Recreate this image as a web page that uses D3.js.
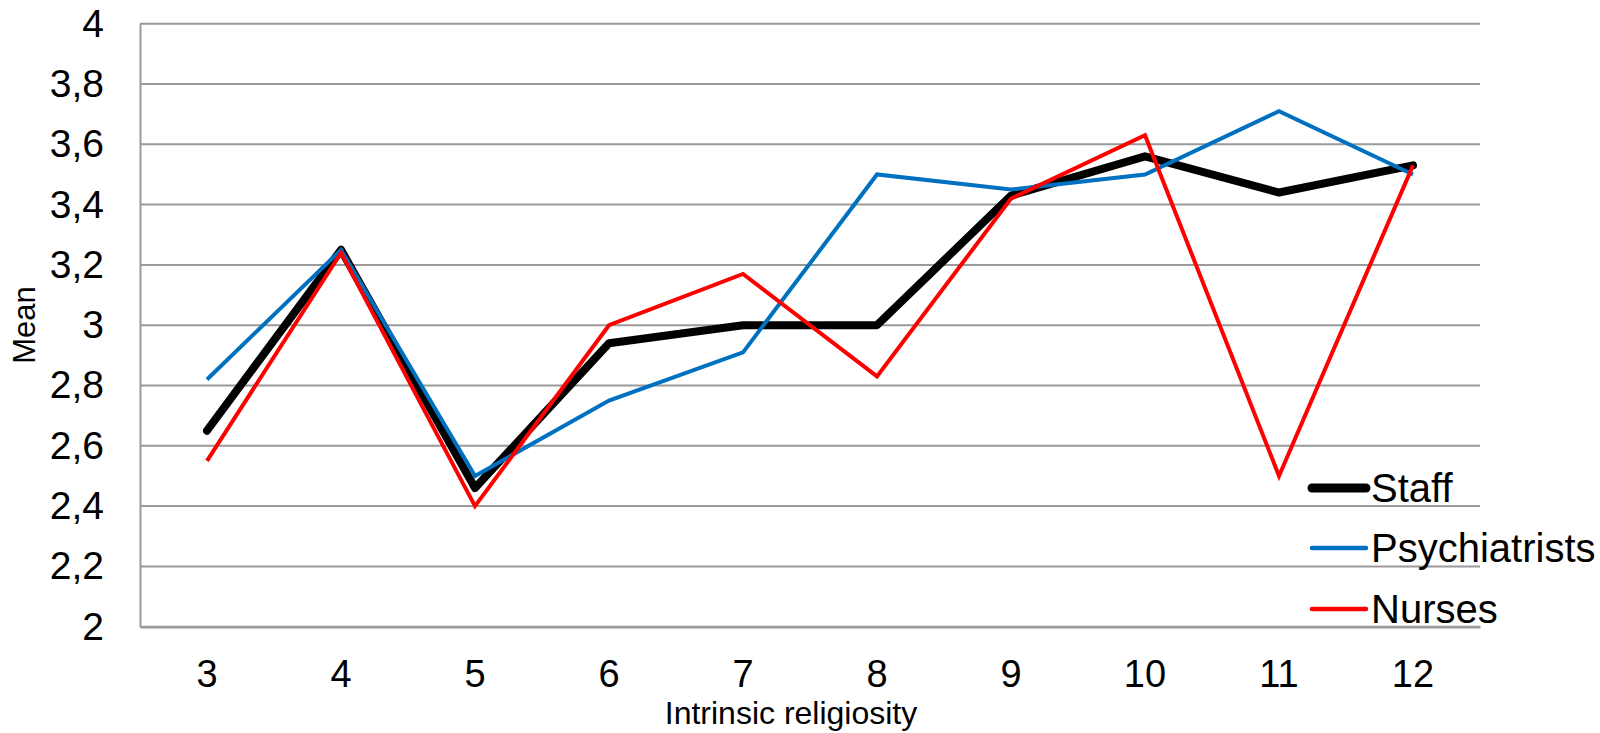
<!DOCTYPE html>
<html>
<head>
<meta charset="utf-8">
<script src="https://cdn.jsdelivr.net/npm/d3@7"></script>
<style>
  html, body { margin: 0; padding: 0; background: #fff; }
  svg { display: block; font-family: "Liberation Sans", Arial, sans-serif; }
</style>
</head>
<body>
<svg id="chart" width="1600" height="733"></svg>
<script>
// ---- data ----
const categories = ["3", "4", "5", "6", "7", "8", "9", "10", "11", "12"];
const staff         = [2.65, 3.25, 2.46, 2.94, 3.00, 3.00, 3.43, 3.56, 3.44, 3.53];
const psychiatrists = [2.82, 3.25, 2.50, 2.75, 2.91, 3.50, 3.45, 3.50, 3.71, 3.50];
const nurses        = [2.55, 3.24, 2.40, 3.00, 3.17, 2.83, 3.42, 3.63, 2.50, 3.53];
const yTicks = [2, 2.2, 2.4, 2.6, 2.8, 3, 3.2, 3.4, 3.6, 3.8, 4];
const seriesNames = ["Staff", "Psychiatrists", "Nurses"];
const xTitle = "Intrinsic religiosity";
const yTitle = "Mean";

// ---- styles ----
const styles = {
  "Staff":         { color: "#000000", width: 8, join: "round", cap: "round" },
  "Psychiatrists": { color: "#0070C0", width: 4, join: "miter", cap: "butt" },
  "Nurses":        { color: "#FF0000", width: 4, join: "miter", cap: "butt" }
};
const seriesData = { "Staff": staff, "Psychiatrists": psychiatrists, "Nurses": nurses };

const svg = d3.select("#chart");
const plotLeft = 140, plotRight = 1480, plotTop = 23.7, plotBottom = 626.7;

const x = d3.scaleBand().domain(categories).range([plotLeft, plotRight]);
const y = d3.scaleLinear().domain([2, 4]).range([plotBottom, plotTop]);

const fmt = v => String(+v.toFixed(1)).replace(".", ",");

// gridlines
svg.append("g")
  .selectAll("line")
  .data(yTicks)
  .join("line")
  .attr("x1", plotLeft).attr("x2", plotRight)
  .attr("y1", d => y(d)).attr("y2", d => y(d))
  .attr("stroke", "#9a9a9a")
  .attr("stroke-width", 2);

// y axis
const yAxis = svg.append("g")
  .attr("transform", `translate(${plotLeft},0)`)
  .call(d3.axisLeft(y).tickValues(yTicks).tickFormat(fmt).tickSize(0).tickPadding(36));
yAxis.select(".domain").attr("stroke", "#9a9a9a").attr("stroke-width", 2);
yAxis.selectAll("text")
  .attr("font-size", 39)
  .attr("font-family", "Liberation Sans, Arial, sans-serif")
  .attr("fill", "#000");

// x axis
const xAxis = svg.append("g")
  .attr("transform", `translate(0,${plotBottom})`)
  .call(d3.axisBottom(x).tickSize(0).tickPadding(33));
xAxis.select(".domain").attr("stroke", "#9a9a9a").attr("stroke-width", 2.5);
xAxis.selectAll("text")
  .attr("font-size", 38)
  .attr("font-family", "Liberation Sans, Arial, sans-serif")
  .attr("fill", "#000");

// axis titles
svg.append("text")
  .attr("x", 791).attr("y", 724)
  .attr("text-anchor", "middle")
  .attr("font-size", 32)
  .attr("fill", "#000")
  .text(xTitle);

svg.append("text")
  .attr("transform", "translate(35,325) rotate(-90)")
  .attr("text-anchor", "middle")
  .attr("font-size", 31)
  .attr("fill", "#000")
  .text(yTitle);

// lines
const line = d3.line()
  .x((d, i) => x(categories[i]) + x.bandwidth() / 2)
  .y(d => y(d));

seriesNames.forEach(name => {
  const s = styles[name];
  svg.append("path")
    .datum(seriesData[name])
    .attr("fill", "none")
    .attr("stroke", s.color)
    .attr("stroke-width", s.width)
    .attr("stroke-linejoin", s.join)
    .attr("stroke-linecap", s.cap)
    .attr("d", line);
});

// legend
const legendYs = [488, 548, 609];
const lg = svg.append("g");
seriesNames.forEach((name, i) => {
  const s = styles[name];
  lg.append("line")
    .attr("x1", 1312).attr("x2", 1366)
    .attr("y1", legendYs[i]).attr("y2", legendYs[i])
    .attr("stroke", s.color)
    .attr("stroke-width", name === "Staff" ? 9 : 4.5)
    .attr("stroke-linecap", "round");
  lg.append("text")
    .attr("x", 1371).attr("y", legendYs[i] + 14)
    .attr("font-size", 40)
    .attr("fill", "#000")
    .text(name);
});
</script>
</body>
</html>
